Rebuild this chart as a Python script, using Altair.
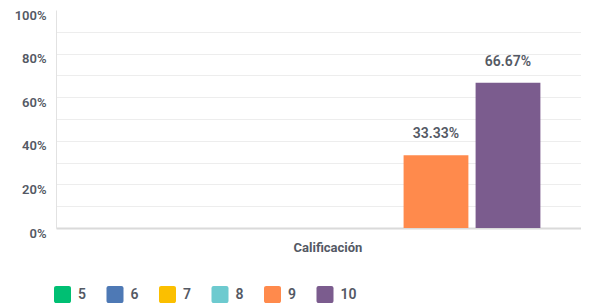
import altair as alt
import pandas as pd

grades = ["5", "6", "7", "8", "9", "10"]
values = [0.0, 0.0, 0.0, 0.0, 0.3333, 0.6667]
labels = ["", "", "", "", "33.33%", "66.67%"]
colors = ["#00bf73", "#4e79b5", "#fbbf00", "#6dcacf", "#ff8a4c", "#7b5c8e"]
group = "Calificación"
y_ticks = [0, 0.1, 0.2, 0.3, 0.4, 0.5, 0.6, 0.7, 0.8, 0.9, 1.0]

df = pd.DataFrame({"grade": grades, "value": values, "label": labels, "group": group})

FONT = "Roboto"
TXT = "#545964"

rounded = ("M-0.75,-1 H0.75 A0.25,0.25 0 0 1 1,-0.75 V0.75 A0.25,0.25 0 0 1 0.75,1 "
           "H-0.75 A0.25,0.25 0 0 1 -1,0.75 V-0.75 A0.25,0.25 0 0 1 -0.75,-1 Z")

x = alt.X("group:N", title=None,
          scale=alt.Scale(paddingInner=0, paddingOuter=0.1076, align=0.602),
          axis=alt.Axis(labelAngle=0, ticks=False, domain=True, domainColor="#dadada",
                        domainWidth=2, labelFont=FONT, labelFontSize=13,
                        labelFontWeight="bold", labelColor=TXT, labelPadding=13, grid=False))
xo = alt.XOffset("grade:N", sort=grades,
                 scale=alt.Scale(paddingInner=0.1, paddingOuter=0.05))
y = alt.Y("value:Q", title=None,
          scale=alt.Scale(domain=[0, 1], nice=False),
          axis=alt.Axis(values=y_ticks, format=".0%", ticks=False,
                        labelExpr="round(datum.value*10) % 2 == 0 ? datum.label : ''",
                        labelFont=FONT, labelFontSize=13, labelFontWeight=600,
                        labelColor=TXT, labelPadding=10, labelOffset=5,
                        domainColor="#e2e2e2", gridColor="#ededed",
                        gridOpacity={"condition": {"test": "datum.value >= 1", "value": 0}, "value": 1}))

color = alt.Color("grade:N", sort=grades,
                  scale=alt.Scale(domain=grades, range=colors),
                  legend=alt.Legend(title=None, orient="none", direction="horizontal",
                                    legendX=-2, legendY=276, padding=0,
                                    symbolType=rounded, symbolSize=289, symbolStrokeWidth=0,
                                    symbolOpacity=1,
                                    labelFont=FONT, labelFontSize=14, labelFontWeight=600,
                                    labelColor=TXT, labelOffset=7, columnPadding=20.5))

bars = alt.Chart(df).mark_bar(cornerRadius=0).encode(x=x, xOffset=xo, y=y, color=color)
text = alt.Chart(df).transform_filter("datum.value > 0").mark_text(
    font=FONT, fontSize=14, fontWeight=600, color=TXT, dy=-21, baseline="middle"
).encode(x=x, xOffset=xo, y=y, text="label:N")

chart = alt.layer(bars, text).properties(
    width=525, height=218,
    autosize=alt.AutoSizeParams(type="none"),
    padding={"left": 48, "top": 2, "right": 0, "bottom": 75},
).configure_view(stroke=None)

chart.save("out.html", embed_options={"renderer": "svg", "actions": False})
